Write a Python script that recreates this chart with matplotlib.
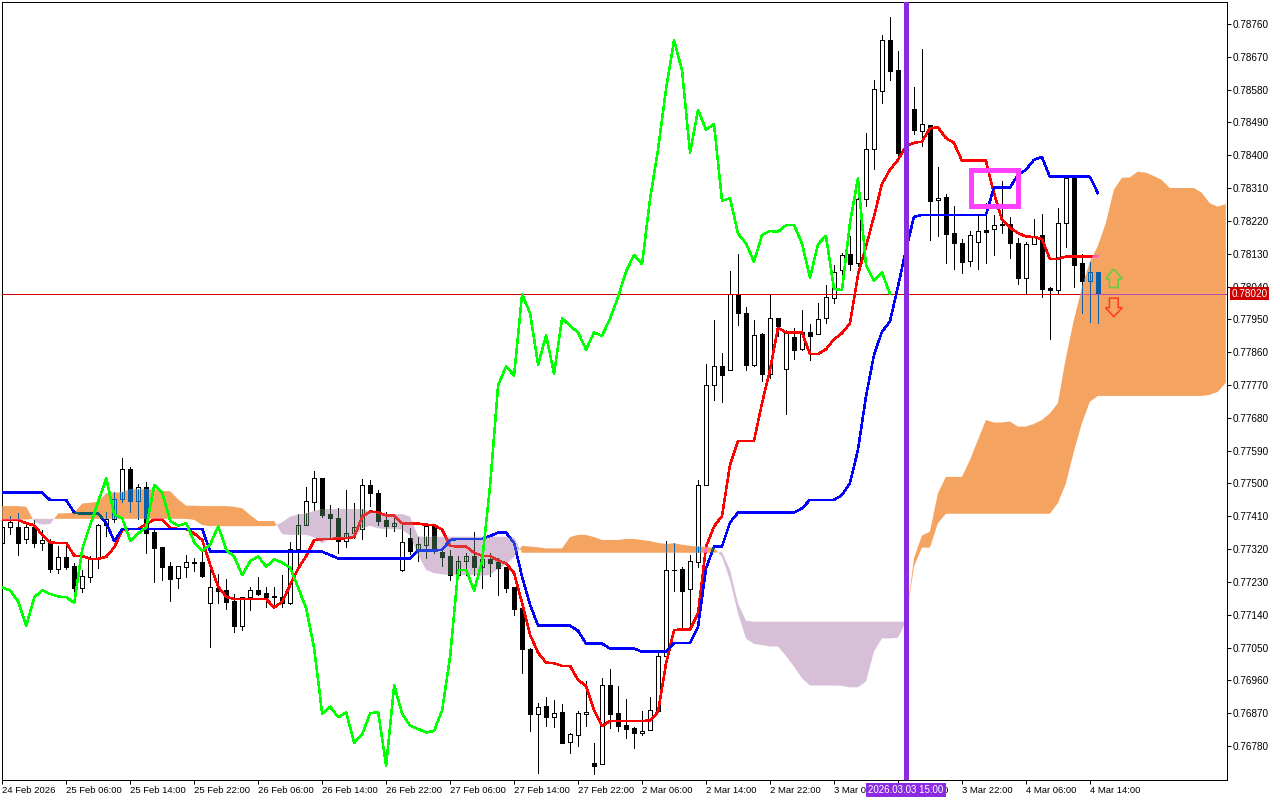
"""
plot.py
EURUSD-style H1 candles with an Ichimoku cloud, MetaTrader look
"""

import numpy as np
import matplotlib
matplotlib.use("Agg")  # non-interactive backend
import matplotlib.pyplot as plt
from matplotlib.patches import Polygon, Rectangle
from matplotlib.path import Path

# ── data (prices in 1e-5 units) ─────────────────────────────────────────────

open_pts = [
    77338, 77380, 77380, 77348, 77380, 77338, 77342, 77266, 77299, 77274,
    77213, 77244, 77294, 77385, 77402, 77458, 77539, 77453, 77489, 77367,
    77325, 77273, 77240, 77272, 77286, 77286, 77171, 77213, 77208, 77177,
    77110, 77188, 77207, 77199, 77191, 77188, 77173, 77321, 77387, 77450,
    77514, 77416, 77405, 77343, 77365, 77376, 77495, 77473, 77400, 77384,
    77264, 77350, 77315, 77332, 77383, 77313, 77301, 77249, 77287, 77301,
    77272, 77292, 77284, 77270, 77215, 77158, 77046, 76869, 76889, 76859,
    76873, 76792, 76810, 76867, 76733, 76730, 76947, 76870, 76837, 76829,
    76817, 76823, 76877, 77026, 77264, 77266, 77210, 77284, 77495, 77769,
    77821, 77810, 78019, 77967, 77826, 77909, 77800, 77953, 77813, 77901,
    77870, 77915, 77909, 77953, 78008, 78084, 78129, 78104, 78281, 78416,
    78577, 78715, 78634, 78409, 78526, 78467, 78482, 78277, 78286, 78186,
    78159, 78109, 78161, 78194, 78197, 78212, 78212, 78160, 78064, 78156,
    78181, 78035, 78030, 78214, 78337, 78104, 78055, 78080,
]
high_pts = [
    77386, 77411, 77418, 77391, 77400, 77372, 77347, 77328, 77328, 77281,
    77264, 77301, 77389, 77422, 77476, 77569, 77544, 77498, 77504, 77374,
    77325, 77285, 77275, 77303, 77297, 77316, 77264, 77252, 77237, 77197,
    77190, 77215, 77244, 77215, 77215, 77249, 77339, 77416, 77489, 77534,
    77514, 77441, 77432, 77482, 77446, 77512, 77510, 77482, 77423, 77405,
    77386, 77377, 77352, 77386, 77386, 77325, 77318, 77301, 77308, 77366,
    77308, 77308, 77295, 77272, 77215, 77158, 77048, 76898, 76914, 76906,
    76895, 76817, 76875, 76958, 76788, 76966, 76991, 76945, 76908, 76833,
    76875, 76914, 77034, 77342, 77337, 77272, 77304, 77510, 77828, 77948,
    77857, 78083, 78129, 77983, 77948, 77912, 78019, 77953, 77921, 77926,
    77976, 77937, 77994, 78044, 78099, 78132, 78179, 78337, 78460, 78606,
    78730, 78778, 78686, 78552, 78586, 78691, 78482, 78367, 78293, 78261,
    78170, 78193, 78234, 78268, 78236, 78330, 78231, 78172, 78162, 78224,
    78239, 78038, 78256, 78346, 78341, 78129, 78107, 78080,
]
low_pts = [
    77330, 77361, 77304, 77338, 77327, 77317, 77257, 77255, 77266, 77189,
    77202, 77231, 77268, 77356, 77394, 77449, 77422, 77403, 77310, 77231,
    77235, 77178, 77214, 77244, 77261, 77244, 77052, 77173, 77155, 77094,
    77098, 77153, 77194, 77160, 77160, 77160, 77169, 77279, 77387, 77427,
    77409, 77350, 77310, 77327, 77350, 77349, 77438, 77386, 77356, 77370,
    77261, 77307, 77288, 77295, 77310, 77274, 77235, 77249, 77249, 77249,
    77213, 77246, 77194, 77203, 77139, 76981, 76820, 76707, 76835, 76832,
    76789, 76762, 76780, 76835, 76703, 76730, 76829, 76822, 76802, 76775,
    76811, 76823, 76877, 77026, 77206, 77100, 77101, 77272, 77495, 77729,
    77724, 77810, 77935, 77811, 77822, 77781, 77790, 77905, 77691, 77842,
    77866, 77839, 77909, 77941, 77994, 78058, 78084, 78095, 78262, 78362,
    78544, 78605, 78401, 78401, 78458, 78426, 78168, 78179, 78105, 78089,
    78078, 78095, 78087, 78105, 78127, 78187, 78119, 78047, 78023, 78156,
    78010, 77897, 78019, 78149, 78038, 77968, 77942, 77939,
]
close_pts = [
    77380, 77394, 77338, 77380, 77338, 77345, 77266, 77299, 77272, 77213,
    77246, 77292, 77386, 77402, 77458, 77539, 77453, 77491, 77365, 77324,
    77272, 77239, 77273, 77284, 77283, 77246, 77215, 77206, 77176, 77110,
    77188, 77207, 77197, 77190, 77188, 77173, 77321, 77387, 77451, 77514,
    77414, 77404, 77343, 77363, 77380, 77495, 77475, 77397, 77384, 77391,
    77339, 77315, 77333, 77383, 77318, 77299, 77249, 77287, 77300, 77272,
    77292, 77283, 77269, 77214, 77157, 77047, 76869, 76888, 76859, 76872,
    76789, 76812, 76870, 76873, 76726, 76947, 76869, 76836, 76827, 76817,
    76822, 76878, 77026, 77262, 77263, 77206, 77287, 77495, 77769, 77821,
    77796, 78019, 77966, 77826, 77906, 77801, 77953, 77932, 77914, 77867,
    77914, 77905, 77952, 78011, 78081, 78127, 78101, 78280, 78416, 78581,
    78715, 78632, 78407, 78524, 78470, 78485, 78275, 78282, 78185, 78158,
    78108, 78181, 78192, 78190, 78208, 78209, 78158, 78064, 78156, 78179,
    78034, 78030, 78214, 78337, 78100, 78056, 78079, 78020,
]
tenkan_pts = [
    77400, 77400, 77400, 77391, 77385, 77359, 77338, 77337, 77337, 77302,
    77301, 77293, 77293, 77299, 77325, 77372, 77375, 77375, 77389, 77401,
    77401, 77378, 77375, 77375, 77363, 77345, 77276, 77217, 77189, 77183,
    77183, 77183, 77183, 77183, 77160, 77176, 77222, 77267, 77301, 77345,
    77347, 77348, 77349, 77350, 77353, 77409, 77423, 77421, 77412, 77412,
    77391, 77390, 77390, 77387, 77386, 77373, 77329, 77327, 77327, 77310,
    77302, 77301, 77289, 77281, 77254, 77172, 77085, 77036, 77009, 77007,
    77000, 77000, 76961, 76945, 76879, 76835, 76849, 76849, 76849, 76849,
    76849, 76850, 76874, 77007, 77098, 77100, 77100, 77144, 77326, 77382,
    77411, 77551, 77617, 77617, 77617, 77720, 77811, 77927, 77914, 77914,
    77914, 77855, 77855, 77868, 77895, 77912, 77939, 78072, 78149, 78232,
    78321, 78360, 78387, 78424, 78434, 78437, 78474, 78476, 78447, 78434,
    78385, 78385, 78385, 78385, 78297, 78223, 78201, 78187, 78177, 78176,
    78170, 78116, 78116, 78122, 78122, 78122, 78122, 78122,
]
kijun_pts = [
    77475, 77475, 77475, 77475, 77475, 77475, 77454, 77454, 77454, 77420,
    77417, 77417, 77417, 77391, 77342, 77375, 77375, 77375, 77375, 77375,
    77375, 77375, 77375, 77375, 77375, 77375, 77313, 77313, 77313, 77313,
    77313, 77313, 77313, 77313, 77313, 77313, 77313, 77313, 77313, 77313,
    77313, 77304, 77294, 77294, 77294, 77294, 77294, 77294, 77294, 77294,
    77294, 77294, 77316, 77316, 77316, 77318, 77345, 77348, 77348, 77348,
    77348, 77356, 77365, 77365, 77337, 77244, 77167, 77110, 77110, 77110,
    77110, 77110, 77096, 77061, 77061, 77061, 77047, 77047, 77047, 77047,
    77039, 77039, 77039, 77039, 77063, 77063, 77063, 77107, 77267, 77327,
    77327, 77393, 77420, 77420, 77420, 77420, 77420, 77420, 77420, 77420,
    77432, 77455, 77455, 77455, 77455, 77468, 77501, 77592, 77738, 77852,
    77916, 77944, 78040, 78140, 78231, 78236, 78236, 78236, 78236, 78236,
    78236, 78236, 78236, 78236, 78311, 78311, 78311, 78346, 78360, 78387,
    78395, 78341, 78341, 78341, 78341, 78341, 78341, 78296,
]
senkou_a_pts = [
    77438, 77438, 77438, 77436, 77394, 77387, 77389, 77418, 77418, 77420,
    77445, 77447, 77450, 77473, 77475, 77476, 77484, 77484, 77484, 77484,
    77479, 77479, 77456, 77439, 77439, 77438, 77438, 77438, 77438, 77436,
    77432, 77413, 77397, 77397, 77397, 77361, 77359, 77359, 77359, 77352,
    77336, 77348, 77350, 77350, 77352, 77377, 77384, 77377, 77375, 77375,
    77373, 77357, 77304, 77263, 77254, 77251, 77249, 77249, 77249, 77249,
    77247, 77249, 77266, 77278, 77299, 77329, 77327, 77325, 77322, 77322,
    77322, 77353, 77359, 77359, 77353, 77345, 77345, 77345, 77348, 77348,
    77345, 77342, 77337, 77334, 77336, 77332, 77329, 77327, 77326, 77324,
    77299, 77235, 77144, 77075, 77060, 77057, 77053, 77053, 77027, 76998,
    76966, 76946, 76946, 76946, 76946, 76945, 76941, 76941, 76957, 77039,
    77075, 77075, 77077, 77121, 77295, 77357, 77368, 77473, 77518, 77518,
    77518, 77564, 77619, 77674, 77667, 77667, 77670, 77656, 77656, 77663,
    77674, 77692, 77720, 77844, 77948, 78036, 78108, 78151, 78214, 78305,
    78338, 78339, 78355, 78352, 78343, 78332, 78310, 78310, 78310, 78310,
    78297, 78268, 78259, 78266,
]
senkou_b_pts = [
    77401, 77401, 77401, 77401, 77403, 77403, 77403, 77403, 77403, 77403,
    77403, 77403, 77403, 77403, 77403, 77403, 77403, 77403, 77403, 77403,
    77403, 77403, 77403, 77403, 77400, 77386, 77383, 77383, 77383, 77383,
    77383, 77383, 77383, 77383, 77383, 77394, 77409, 77415, 77418, 77425,
    77430, 77430, 77430, 77430, 77430, 77430, 77423, 77418, 77416, 77416,
    77416, 77409, 77355, 77354, 77354, 77354, 77354, 77354, 77354, 77354,
    77354, 77354, 77354, 77354, 77351, 77310, 77310, 77310, 77310, 77310,
    77310, 77310, 77310, 77310, 77310, 77310, 77310, 77310, 77310, 77310,
    77310, 77310, 77310, 77310, 77310, 77310, 77310, 77310, 77310, 77310,
    77312, 77263, 77171, 77124, 77121, 77121, 77121, 77121, 77121, 77121,
    77121, 77121, 77121, 77121, 77121, 77121, 77121, 77121, 77121, 77121,
    77121, 77121, 77121, 77121, 77272, 77324, 77324, 77391, 77417, 77417,
    77417, 77417, 77417, 77417, 77417, 77417, 77417, 77417, 77417, 77417,
    77417, 77417, 77446, 77500, 77587, 77665, 77724, 77740, 77740, 77740,
    77740, 77740, 77740, 77740, 77740, 77740, 77740, 77740, 77740, 77740,
    77740, 77743, 77751, 77776,
]

price_ticks = [
    0.78760, 0.78670, 0.78580, 0.78490, 0.78400, 0.78310, 0.78220, 0.78130,
    0.78040, 0.77950, 0.77860, 0.77770, 0.77680, 0.77590, 0.77500, 0.77410,
    0.77320, 0.77230, 0.77140, 0.77050, 0.76960, 0.76870, 0.76780,
]
time_labels = [
    "24 Feb 2026", "25 Feb 06:00", "25 Feb 14:00", "25 Feb 22:00",
    "26 Feb 06:00", "26 Feb 14:00", "26 Feb 22:00", "27 Feb 06:00",
    "27 Feb 14:00", "27 Feb 22:00", "2 Mar 06:00", "2 Mar 14:00",
    "2 Mar 22:00", "3 Mar 06:00", "3 Mar 14:00", "3 Mar 22:00",
    "4 Mar 06:00", "4 Mar 14:00",
]
bars_per_label = 8
current_price = 0.78020
marked_bar = 113
marked_label = "2026.03.03 15:00"

# ── setup ───────────────────────────────────────────────────────────────────

PX = 0.72  # one pixel in points at dpi=100
ORANGE = "#F4A460"
THISTLE = "#D8BFD8"
VIOLET = "#8A2BE2"
FONT = "Liberation Sans"

o, h, l, c = [np.array(v) / 1e5 for v in (open_pts, high_pts, low_pts, close_pts)]
tenkan = np.array(tenkan_pts) / 1e5
kijun = np.array(kijun_pts) / 1e5
chikou = c[26:]  # lagging span is the close moved back 26 bars
span_a = np.array(senkou_a_pts) / 1e5
span_b = np.array(senkou_b_pts) / 1e5
x = np.arange(len(c))
x_cloud = np.arange(len(span_a))

fig = plt.figure(figsize=(12.8, 8), dpi=100)
ax = fig.add_axes([2 / 1280, 20 / 800, 1225 / 1280, 778 / 800])


def draw_candles(wick_color, body_color, hollow_fill, zorder):
    """Draw all candles once and return the artists so they can be clipped."""
    wicks = ax.vlines(x, l, h, color=wick_color, lw=PX, zorder=zorder, antialiased=False)
    bull = c >= o
    faces = [hollow_fill if b else body_color for b in bull]
    bodies = ax.bar(
        x, np.abs(c - o), bottom=np.minimum(o, c), width=0.5,
        color=faces, edgecolor=wick_color, linewidth=PX, zorder=zorder,
        antialiased=False,
    )
    return [wicks, *bodies]


def clip_to(artists, cloud):
    path = Path.make_compound_path(*cloud.get_paths())
    for artist in artists:
        artist.set_clip_path(path, ax.transData)


# ── candles and cloud ───────────────────────────────────────────────────────

draw_candles("black", "black", "white", 2)

orange_cloud = ax.fill_between(
    x_cloud, span_a, span_b, where=span_a >= span_b, interpolate=True,
    color=ORANGE, linewidth=0, zorder=3,
)
thistle_cloud = ax.fill_between(
    x_cloud, span_a, span_b, where=span_a <= span_b, interpolate=True,
    color=THISTLE, linewidth=0, zorder=3,
)

# the terminal mixes colours where candles and lines cross the cloud
clip_to(draw_candles("#0A5FA8", "#0A5FA8", "none", 4), orange_cloud)
clip_to(draw_candles("#24402A", "#24402A", "none", 4), thistle_cloud)

# ── indicator lines ─────────────────────────────────────────────────────────

ax.axhline(current_price, color="#D00000", lw=PX, zorder=4.5, antialiased=False)
clip_to([ax.axhline(current_price, color="#B455B4", lw=PX, zorder=4.6, antialiased=False)], orange_cloud)

line_kw = {"lw": 1.5 * PX, "antialiased": False, "solid_joinstyle": "round"}
ax.plot(x, tenkan, color="#FF0000", zorder=5, **line_kw)
clip_to(ax.plot(x, tenkan, color="#FF69B4", zorder=5.1, **line_kw), orange_cloud)
clip_to(ax.plot(x, tenkan, color="#E03030", zorder=5.1, **line_kw), thistle_cloud)
ax.plot(x, kijun, color="#0000FF", zorder=5.2, **line_kw)
clip_to(ax.plot(x, kijun, color="#0A5A6A", zorder=5.3, **line_kw), orange_cloud)
clip_to(ax.plot(x, kijun, color="#2040E0", zorder=5.3, **line_kw), thistle_cloud)
ax.plot(x[:len(chikou)], chikou, color="#00FF00", zorder=5.4, **line_kw)

# ── drawn objects ───────────────────────────────────────────────────────────

ax.axvline(marked_bar, color=VIOLET, lw=5 * PX, zorder=7)
ax.add_patch(Rectangle(
    (121.1, 0.78261), 5.9, 0.00099, fill=False, edgecolor="#FF40FF",
    lw=5 * PX, joinstyle="miter", zorder=6,
))
ax.add_patch(Polygon(
    [(139, 0.78088), (140.05, 0.78061), (139.55, 0.78061), (139.55, 0.78037),
     (138.45, 0.78037), (138.45, 0.78061), (137.95, 0.78061)],
    closed=True, fill=False, edgecolor="#5FCF3A", lw=1.5 * PX, zorder=6,
))
ax.add_patch(Polygon(
    [(139, 0.77957), (140.05, 0.77982), (139.55, 0.77982), (139.55, 0.78008),
     (138.45, 0.78008), (138.45, 0.77982), (137.95, 0.77982)],
    closed=True, fill=False, edgecolor="#FF3B1E", lw=1.5 * PX, zorder=6,
))

# ── axes ────────────────────────────────────────────────────────────────────

ax.set_xlim(-0.04, 153.15)
ax.set_ylim(0.76687, 0.78820)

ax.yaxis.tick_right()
ax.set_yticks(price_ticks)
ax.set_yticklabels([f"{v:.5f}" for v in price_ticks], family=FONT, fontsize=7.2)
ax.tick_params(axis="y", length=4 * PX, width=PX, pad=1.5)

ax.set_xticks(np.arange(len(time_labels)) * bars_per_label)
ax.set_xticklabels(time_labels, ha="left", family=FONT, fontsize=6.8)
ax.tick_params(axis="x", length=4 * PX, width=PX, pad=1.5)

for spine in ax.spines.values():
    spine.set_linewidth(PX)

# price tag on the right scale, time tag on the bottom scale
ax.text(
    1.0035, current_price, f"{current_price:.5f}", transform=ax.get_yaxis_transform(),
    color="white", va="center", ha="left", clip_on=False, zorder=10, family=FONT, fontsize=7.2,
    bbox={"facecolor": "#CC0000", "edgecolor": "none", "pad": 1.2},
)
ax.text(
    marked_bar, -0.0128, marked_label, transform=ax.get_xaxis_transform(),
    color="white", va="center", ha="center", clip_on=False, zorder=10, family=FONT, fontsize=7.0,
    bbox={"facecolor": VIOLET, "edgecolor": "none", "pad": 1.5},
)

fig.savefig("out.png", dpi=100, facecolor="white")
plt.close(fig)
